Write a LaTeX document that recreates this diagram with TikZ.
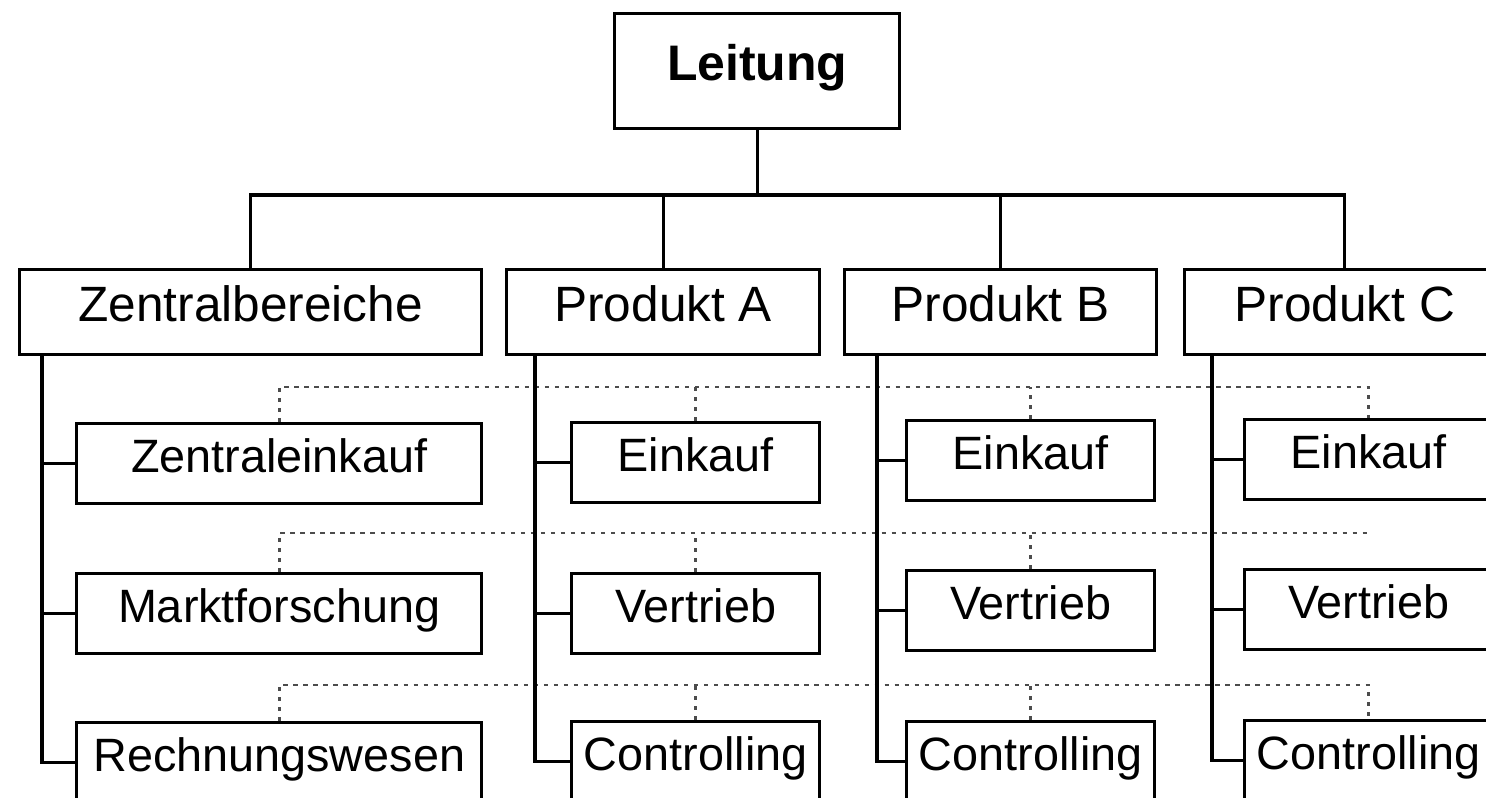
\documentclass[tikz,border=0pt]{standalone}
\usepackage{fontspec}
\setmainfont{Liberation Sans}
\begin{document}
\begin{tikzpicture}[x=0.01cm,y=-0.01cm,
  box/.style={draw, line width=0.9pt, inner sep=0pt, anchor=north west, fill=white,
    text height=0.72em, text depth=0.19em},
  topbox/.style={box, minimum width=2.85cm, minimum height=1.15cm, font=\fontsize{14.2}{16}\selectfont\bfseries},
  headbox/.style={box, minimum height=0.85cm, font=\fontsize{14.1}{16}\selectfont},
  unitbox/.style={box, minimum height=0.80cm, font=\fontsize{13.3}{15}\selectfont},
  solid line/.style={line width=0.9pt},
  dotline/.style={line width=0.8pt, black!70, dash pattern=on 1.2pt off 1.65pt}]
\useasboundingbox (0,0) rectangle (1486,797);
\clip (0,0) rectangle (1486,797);
\fill[white] (0,0) rectangle (1486,797);

% reference rows and spine positions
\coordinate (bus) at (0,195);
\coordinate (d1) at (0,387);
\coordinate (d2) at (0,533);
\coordinate (d3) at (0,685);
\coordinate (sz) at (42,0);
\coordinate (sa) at (535,0);
\coordinate (sb) at (877,0);
\coordinate (sc) at (1212,0);

% management
\node[topbox] (lt) at (613,12) {Leitung};

% divisions
\node[headbox, minimum width=4.62cm] (zb) at (18,268) {Zentralbereiche};
\node[headbox, minimum width=3.13cm] (pa) at (505,268) {Produkt A};
\node[headbox, minimum width=3.12cm] (pb) at (843,268) {Produkt B};
\node[headbox, minimum width=3.20cm] (pc) at (1183,268) {Produkt C};

% purchasing
\node[unitbox, minimum width=4.05cm] (ze) at (75,422) {Zentraleinkauf};
\node[unitbox, minimum width=2.48cm] (ea) at (570,421) {Einkauf};
\node[unitbox, minimum width=2.48cm] (eb) at (905,419) {Einkauf};
\node[unitbox, minimum width=2.48cm] (ec) at (1243,418) {Einkauf};

% sales
\node[unitbox, minimum width=4.05cm] (mf) at (75,572) {Marktforschung};
\node[unitbox, minimum width=2.48cm] (va) at (570,572) {Vertrieb};
\node[unitbox, minimum width=2.48cm] (vb) at (905,569) {Vertrieb};
\node[unitbox, minimum width=2.48cm] (vc) at (1243,568) {Vertrieb};

% accounting
\node[unitbox, minimum width=4.05cm] (rw) at (75,721) {Rechnungswesen};
\node[unitbox, minimum width=2.48cm] (ca) at (570,720) {Controlling};
\node[unitbox, minimum width=2.48cm] (cb) at (905,720) {Controlling};
\node[unitbox, minimum width=2.48cm] (cc) at (1243,719) {Controlling};

% dotted functional links
\draw[dotline] (ze.north) |- (ec.north |- d1) -- (ec.north);
\draw[dotline] (ea.north) -- (ea.north |- d1);
\draw[dotline] (eb.north) -- (eb.north |- d1);
\draw[dotline] (mf.north) |- (vc.north |- d2);
\draw[dotline] (va.north) -- (va.north |- d2);
\draw[dotline] (vb.north) -- (vb.north |- d2);
\draw[dotline] (rw.north) |- (cc.north |- d3) -- (cc.north);
\draw[dotline] (ca.north) -- (ca.north |- d3);
\draw[dotline] (cb.north) -- (cb.north |- d3);

% top-level tree
\draw[solid line] (lt.south) -- (lt.south |- bus);
\draw[solid line] (zb.north) |- (pc.north |- bus) -- (pc.north);
\draw[solid line] (pa.north) -- (pa.north |- bus);
\draw[solid line] (pb.north) -- (pb.north |- bus);

% spines with branches
\draw[solid line] (zb.south -| sz) |- (rw.west);
\draw[solid line] (ze.west) -- (ze.west -| sz);
\draw[solid line] (mf.west) -- (mf.west -| sz);
\draw[solid line] (pa.south -| sa) |- (ca.west);
\draw[solid line] (ea.west) -- (ea.west -| sa);
\draw[solid line] (va.west) -- (va.west -| sa);
\draw[solid line] (pb.south -| sb) |- (cb.west);
\draw[solid line] (eb.west) -- (eb.west -| sb);
\draw[solid line] (vb.west) -- (vb.west -| sb);
\draw[solid line] (pc.south -| sc) |- (cc.west);
\draw[solid line] (ec.west) -- (ec.west -| sc);
\draw[solid line] (vc.west) -- (vc.west -| sc);
\end{tikzpicture}
\end{document}
